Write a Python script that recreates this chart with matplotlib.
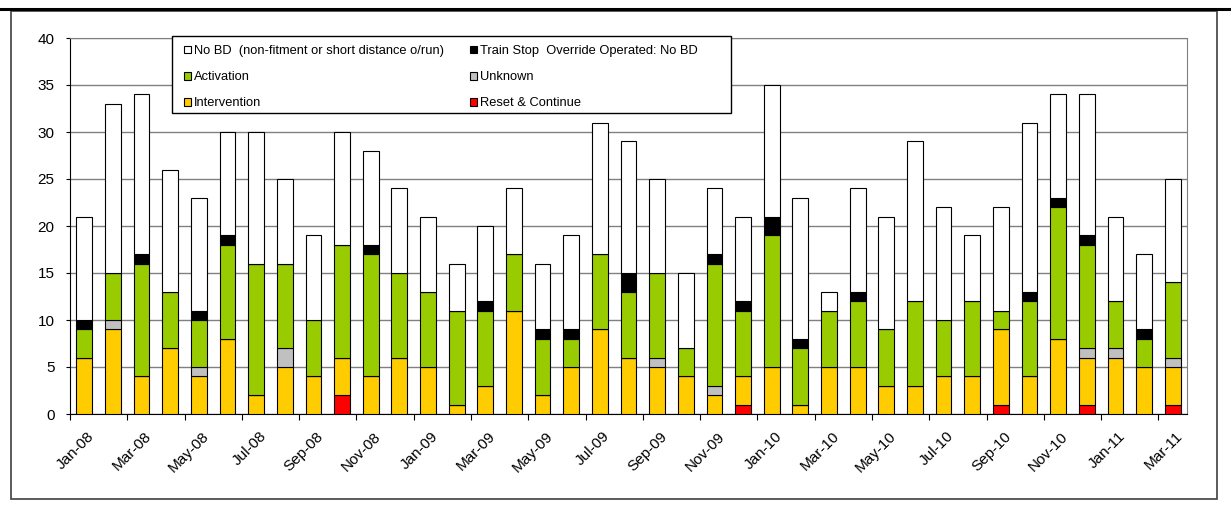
import numpy as np
import matplotlib
matplotlib.use('Agg')
import matplotlib.pyplot as plt
from matplotlib.patches import Rectangle
from matplotlib.lines import Line2D
from matplotlib.transforms import ScaledTranslation

plt.rcParams['font.family'] = ['Liberation Sans', 'DejaVu Sans']

months = ['Jan-08', 'Feb-08', 'Mar-08', 'Apr-08', 'May-08', 'Jun-08', 'Jul-08', 'Aug-08', 'Sep-08', 'Oct-08',
	'Nov-08', 'Dec-08', 'Jan-09', 'Feb-09', 'Mar-09', 'Apr-09', 'May-09', 'Jun-09', 'Jul-09', 'Aug-09',
	'Sep-09', 'Oct-09', 'Nov-09', 'Dec-09', 'Jan-10', 'Feb-10', 'Mar-10', 'Apr-10', 'May-10', 'Jun-10',
	'Jul-10', 'Aug-10', 'Sep-10', 'Oct-10', 'Nov-10', 'Dec-10', 'Jan-11', 'Feb-11', 'Mar-11']

# counts per month, stacked bottom to top in this order
reset        = [0, 0, 0, 0, 0, 0, 0, 0, 0, 2, 0, 0, 0, 0, 0, 0, 0, 0, 0, 0, 0, 0, 0, 1, 0, 0, 0, 0, 0, 0, 0, 0, 1, 0, 0, 1, 0, 0, 1]
intervention = [6, 9, 4, 7, 4, 8, 2, 5, 4, 4, 4, 6, 5, 1, 3, 11, 2, 5, 9, 6, 5, 4, 2, 3, 5, 1, 5, 5, 3, 3, 4, 4, 8, 4, 8, 5, 6, 5, 4]
unknown      = [0, 1, 0, 0, 1, 0, 0, 2, 0, 0, 0, 0, 0, 0, 0, 0, 0, 0, 0, 0, 1, 0, 1, 0, 0, 0, 0, 0, 0, 0, 0, 0, 0, 0, 0, 1, 1, 0, 1]
activation   = [3, 5, 12, 6, 5, 10, 14, 9, 6, 12, 13, 9, 8, 10, 8, 6, 6, 3, 8, 7, 9, 3, 13, 7, 14, 6, 6, 7, 6, 9, 6, 8, 2, 8, 14, 11, 5, 3, 8]
tso          = [1, 0, 1, 0, 1, 1, 0, 0, 0, 0, 1, 0, 0, 0, 1, 0, 1, 1, 0, 2, 0, 0, 1, 1, 2, 1, 0, 1, 0, 0, 0, 0, 0, 1, 1, 1, 0, 1, 0]
no_bd        = [11, 18, 17, 13, 12, 11, 14, 9, 9, 12, 10, 9, 8, 5, 8, 7, 7, 10, 14, 14, 10, 8, 7, 9, 14, 15, 2, 11, 12, 17, 12, 7, 11, 18, 11, 15, 9, 8, 11]

W, H = 1231, 508
def fx(px): return px / W
def fy(py): return 1 - py / H

fig = plt.figure(figsize=(W / 100, H / 100), dpi=100)
ax = fig.add_axes([fx(70), fy(414), fx(1187) - fx(70), fy(38) - fy(414)])

series = [
	('Reset & Continue', reset, '#FF0000'),
	('Intervention', intervention, '#FFCC00'),
	('Unknown', unknown, '#C0C0C0'),
	('Activation', activation, '#99CC00'),
	('Train Stop  Override Operated: No BD', tso, '#000000'),
	('No BD  (non-fitment or short distance o/run)', no_bd, '#FFFFFF'),
]

x = np.arange(len(months))
bottom = np.zeros(len(months))
bars = {}
for name, vals, col in series:
	bars[name] = ax.bar(x, vals, 0.55, bottom=bottom, color=col, edgecolor='black', linewidth=0.8, zorder=3, label=name)
	bottom += np.array(vals)

ax.set_xlim(-0.5, len(months) - 0.5)
ax.set_ylim(0, 40)
ax.set_yticks(range(0, 41, 5))
ax.yaxis.grid(True, color='#808080', linewidth=1)
ax.set_axisbelow(True)
ax.tick_params(axis='y', direction='out', length=3, width=0.8, pad=8, labelsize=11)

ax.set_xticks(x[::2])
ax.set_xticklabels(months[::2])
ax.set_xticks(np.arange(-0.5, len(months), 2), minor=True)
ax.tick_params(axis='x', which='major', length=0, pad=11, labelsize=11)
ax.tick_params(axis='x', which='minor', direction='out', length=4, width=0.8)
shift = ScaledTranslation(3 / 100, 0, fig.dpi_scale_trans)
for lbl in ax.get_xticklabels():
	lbl.set_rotation(45)
	lbl.set_ha('right')
	lbl.set_va('top')
	lbl.set_rotation_mode('anchor')
	lbl.set_transform(lbl.get_transform() + shift)

for side in ['left', 'bottom']:
	ax.spines[side].set_color('black')
for side in ['top', 'right']:
	ax.spines[side].set_color('#808080')

# legend, two columns inside a white box
order = ['No BD  (non-fitment or short distance o/run)', 'Activation', 'Intervention',
	'Train Stop  Override Operated: No BD', 'Unknown', 'Reset & Continue']
fig.add_artist(Rectangle((fx(172), fy(113)), fx(731) - fx(172), fy(36) - fy(113), transform=fig.transFigure,
	facecolor='white', edgecolor='black', linewidth=1, zorder=4))
fig.legend([bars[n] for n in order], order, ncol=2, loc='upper left', bbox_to_anchor=(fx(184), fy(45)),
	frameon=False, fontsize=9.3, handlelength=0.55, handleheight=0.55, handletextpad=0.25,
	labelspacing=1.1, columnspacing=2.0, borderpad=0, borderaxespad=0)

# outer frame and heavy rule along the top
fig.add_artist(Rectangle((fx(11), fy(499)), fx(1217) - fx(11), fy(11) - fy(499), transform=fig.transFigure,
	fill=False, edgecolor='#404040', linewidth=1.2, zorder=1))
fig.add_artist(Line2D([0, 1], [fy(9), fy(9)], color='black', linewidth=2.2, transform=fig.transFigure))

fig.savefig('out.png', dpi=100)
